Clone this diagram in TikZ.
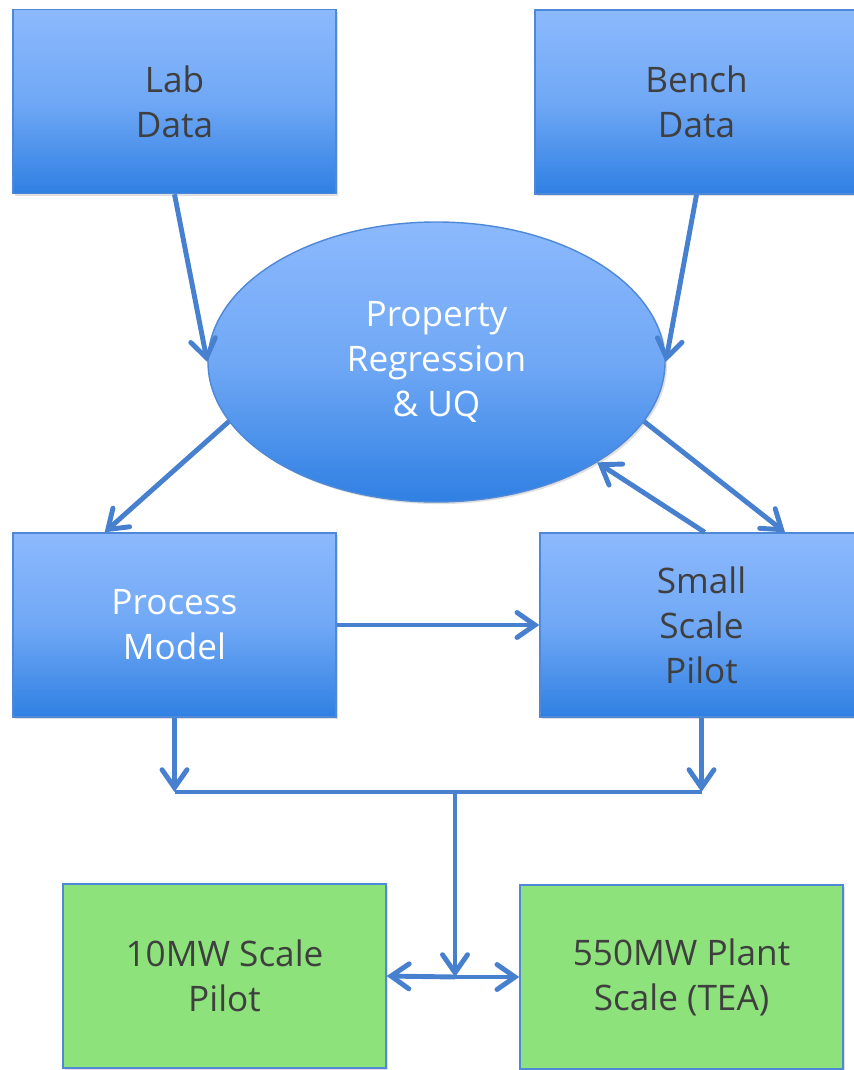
\documentclass[tikz,border=0pt]{standalone}
\usepackage{fontspec}
\setmainfont{Open Sans}
\usetikzlibrary{arrows.meta, positioning, shapes.geometric, shadows}

\definecolor{skytop}{HTML}{8CB9FD}
\definecolor{skybot}{HTML}{2F80E3}
\definecolor{rim}{HTML}{4F88D6}
\definecolor{flow}{HTML}{4880D0}
\definecolor{leaf}{HTML}{8DE27B}
\definecolor{ink}{HTML}{3F3F3F}

\tikzset{
  stage/.style={rectangle, draw=rim, line width=0.8pt,
    minimum width=64.6mm, minimum height=36.8mm, align=center,
    font=\fontsize{20}{25.6}\selectfont, text=ink,
    drop shadow={opacity=0.25, shadow xshift=1.2pt, shadow yshift=-1.2pt}},
  bluebox/.style={stage, top color=skytop, bottom color=skybot,
    middle color=skytop!70!skybot},
  greenbox/.style={stage, fill=leaf},
  link/.style={draw=flow, line width=2.8pt},
  arr/.style={link, -{Straight Barb[length=3.6mm, width=5mm, line cap=round]}}
}

\begin{document}
\begin{tikzpicture}[x=0.2mm, y=-0.2mm]
  \useasboundingbox (0,0) rectangle (853,1070);

  % data sources
  \node[bluebox] (lab) at (174.5,101.5) {Lab\\Data};
  \node[bluebox] (bench) at (696.5,102) {Bench\\Data};

  % regression step
  \node[ellipse, draw=rim, line width=0.8pt, top color=skytop, bottom color=skybot,
    middle color=skytop!70!skybot, minimum width=91.4mm, minimum height=56mm,
    align=center, text=white, font=\fontsize{20}{25.6}\selectfont,
    drop shadow={opacity=0.25, shadow xshift=1.2pt, shadow yshift=-1.2pt}]
    (reg) at (436.5,362) {Property\\Regression\\\& UQ};

  % model and pilot
  \node[bluebox, text=white] (model) at (174.5,625) {Process\\Model};
  \node[bluebox] (pilot) at (701.5,625) {Small\\Scale\\Pilot};

  % scale-up targets
  \node[greenbox] (ten) at (224.5,976) {10MW Scale\\Pilot};
  \node[greenbox] (plant) at (681.5,977) {550MW Plant\\Scale (TEA)};

  \coordinate (bus) at (455,792);
  \coordinate (hub) at (455,977);

  \draw[arr] (lab.south) -- (reg.west);
  \draw[arr] (bench.south) -- (reg.east);
  \draw[arr] (reg.196) -- (model.127);
  \draw[arr] (reg.344) -- (pilot.48);
  \draw[arr] (pilot.88) -- (reg.328);
  \draw[arr] (model.east) -- (pilot.west);

  % merge into one line, then split
  \draw[arr] (model.south) -- (model.south |- bus);
  \draw[arr] (pilot.south) -- (pilot.south |- bus);
  \draw[link] (model.south |- bus) -- (pilot.south |- bus);
  \draw[arr] (bus) -- (hub);
  \draw[arr] (hub) -- (ten.east);
  \draw[arr] (hub) -- (plant.west);
\end{tikzpicture}
\end{document}
